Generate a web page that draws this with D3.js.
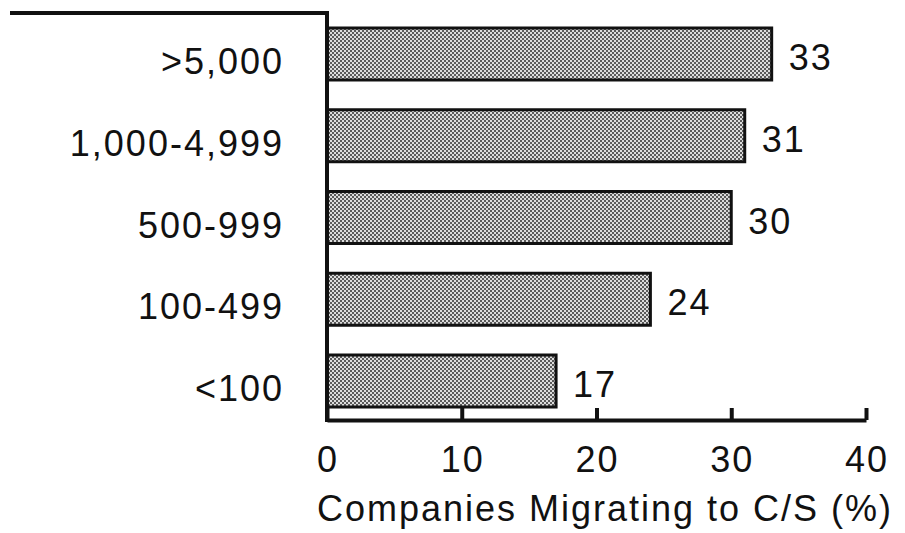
<!DOCTYPE html>
<html>
<head>
<meta charset="utf-8">
<script src="https://cdn.jsdelivr.net/npm/d3@7"></script>
<style>
  body { margin: 0; background: #fff; }
  text { font-family: "Liberation Sans", Arial, sans-serif; fill: #111; letter-spacing: 2px; }
</style>
</head>
<body>
<div id="container"></div>
<script>
// Data
const categories = [">5,000", "1,000-4,999", "500-999", "100-499", "<100"];
const values = [33, 31, 30, 24, 17];
const xTicks = [0, 10, 20, 30, 40];
const xTitle = "Companies Migrating to C/S (%)";

const width = 905,
  height = 533;

const svg = d3.select("div#container")
  .append("svg")
  .attr("width", width)
  .attr("height", height);

// dotted halftone fill
const defs = svg.append("defs");
const pat = defs.append("pattern")
  .attr("id", "dots")
  .attr("width", 4)
  .attr("height", 4)
  .attr("patternUnits", "userSpaceOnUse");
pat.append("rect").attr("width", 4).attr("height", 4).attr("fill", "#dcdcdc");
pat.append("rect").attr("x", 0).attr("y", 0).attr("width", 2).attr("height", 2).attr("fill", "#5a5a5a");
pat.append("rect").attr("x", 2).attr("y", 2).attr("width", 2).attr("height", 2).attr("fill", "#5a5a5a");

// Scales
const x = d3.scaleLinear().domain([0, 40]).range([327, 866]);
const y = d3.scaleBand()
  .domain(categories)
  .range([28, 407])
  .paddingInner(0.364)
  .paddingOuter(0);

const axisY = 420;
const fs = 36;

// Bars
svg.selectAll("rect.bar")
  .data(values)
  .enter()
  .append("rect")
  .attr("class", "bar")
  .attr("x", x(0))
  .attr("y", (d, i) => y(categories[i]))
  .attr("width", (d) => x(d) - x(0))
  .attr("height", y.bandwidth())
  .attr("fill", "url(#dots)")
  .attr("stroke", "#111")
  .attr("stroke-width", 3);

// Value labels
svg.selectAll("text.val")
  .data(values)
  .enter()
  .append("text")
  .attr("class", "val")
  .attr("x", (d) => x(d) + 17)
  .attr("y", (d, i) => y(categories[i]) + y.bandwidth() / 2 + 16)
  .attr("font-size", fs)
  .text((d) => d);

// Category labels
svg.selectAll("text.cat")
  .data(categories)
  .enter()
  .append("text")
  .attr("class", "cat")
  .attr("x", 284)
  .attr("y", (d) => y(d) + y.bandwidth() / 2 + 20)
  .attr("text-anchor", "end")
  .attr("font-size", fs)
  .text((d) => d);

// Top rule and vertical axis
svg.append("line")
  .attr("x1", 10).attr("x2", x(0) + 2)
  .attr("y1", 13).attr("y2", 13)
  .attr("stroke", "#111").attr("stroke-width", 4);
svg.append("line")
  .attr("x1", x(0)).attr("x2", x(0))
  .attr("y1", 11).attr("y2", axisY + 2)
  .attr("stroke", "#111").attr("stroke-width", 4);

// Bottom axis
const xAxis = d3.axisBottom(x)
  .tickValues(xTicks)
  .tickSizeInner(-12)
  .tickSizeOuter(0)
  .tickPadding(0)
  .tickFormat("");
const gx = svg.append("g")
  .attr("transform", `translate(0,${axisY})`)
  .call(xAxis);
gx.select(".domain").attr("stroke", "#111").attr("stroke-width", 4);
gx.selectAll(".tick line").attr("stroke", "#111").attr("stroke-width", 4);

svg.selectAll("text.tick")
  .data(xTicks)
  .enter()
  .append("text")
  .attr("class", "tick")
  .attr("x", (d) => x(d) + 1)
  .attr("y", 472)
  .attr("text-anchor", "middle")
  .attr("font-size", fs)
  .text((d) => d);

svg.append("text")
  .attr("x", 605)
  .attr("y", 521)
  .attr("text-anchor", "middle")
  .attr("font-size", fs)
  .text(xTitle);
</script>
</body>
</html>
